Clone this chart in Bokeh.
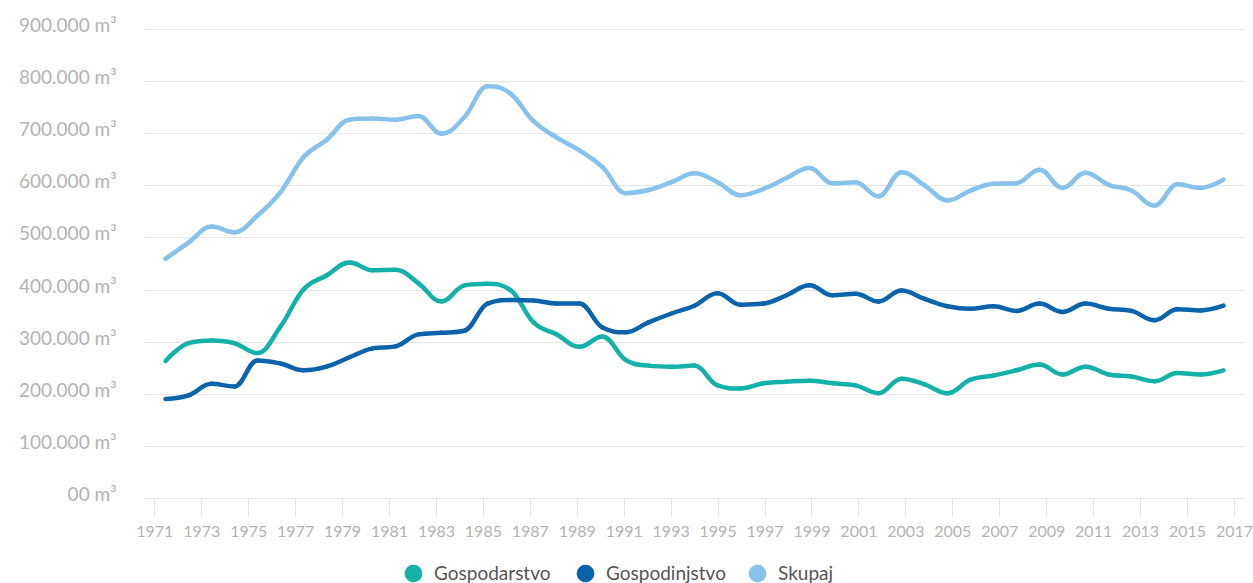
import numpy as np
from bokeh.plotting import figure
from bokeh.layouts import column
from bokeh.models import (Range1d, LinearAxis, FixedTicker, Legend, LegendItem, Grid)
from bokeh.embed import file_html
from bokeh.resources import INLINE

# ---------------- data ----------------
years = list(range(1971, 2018))

gospodarstvo = [264, 298, 303, 298, 279, 330, 401, 428, 453, 438,
                439, 413, 378, 409, 412, 400, 338, 315, 291, 311,
                266, 255, 253, 255, 217, 211, 221, 224, 226, 221,
                217, 202, 230, 219, 202, 228, 236, 246, 257, 238,
                253, 238, 234, 225, 241, 238, 246]

gospodinjstvo = [191, 198, 220, 215, 265, 259, 246, 253, 271, 288,
                 292, 315, 318, 322, 374, 381, 380, 374, 374, 328,
                 319, 338, 355, 370, 394, 372, 374, 390, 409, 390,
                 393, 378, 399, 383, 369, 364, 369, 360, 374, 358,
                 374, 364, 360, 342, 363, 361, 370]

skupaj = [460, 491, 522, 511, 543, 588, 655, 688, 727, 729,
          727, 734, 700, 732, 791, 777, 724, 693, 668, 636,
          586, 592, 607, 624, 607, 582, 594, 615, 634, 605,
          607, 580, 626, 601, 572, 591, 604, 605, 631, 596,
          625, 602, 591, 562, 603, 596, 612]

series_names = ["Gospodarstvo", "Gospodinjstvo", "Skupaj"]
series_colors = ["#14b1a8", "#0a63ab", "#86c2ec"]

x_tick_labels = list(range(1971, 2018, 2))
y_ticks = [0, 100000, 200000, 300000, 400000, 500000, 600000, 700000, 800000, 900000]
y_tick_labels = ["00 m³", "100.000 m³", "200.000 m³", "300.000 m³", "400.000 m³",
                 "500.000 m³", "600.000 m³", "700.000 m³", "800.000 m³", "900.000 m³"]

FONT = "Lato"
LABEL_GREY = "#b3b3b3"
GRID_GREY = "#e4e4e4"


def spline_segments(xs, ys, smoothing=1.5):
    """Control points of a smooth curve through the given points (one cubic per gap)."""
    xs = np.asarray(xs, float)
    ys = np.asarray(ys, float)
    n = len(xs)
    lcx, lcy, rcx, rcy = xs.copy(), ys.copy(), xs.copy(), ys.copy()
    d = smoothing + 1
    for i in range(1, n - 1):
        x, y = xs[i], ys[i]
        px, py, nx, ny = xs[i - 1], ys[i - 1], xs[i + 1], ys[i + 1]
        lx, ly = (smoothing * x + px) / d, (smoothing * y + py) / d
        rx, ry = (smoothing * x + nx) / d, (smoothing * y + ny) / d
        if rx != lx:
            corr = ((ry - ly) * (rx - x)) / (rx - lx) + y - ry
            ly += corr
            ry += corr
        if ly > py and ly > y:
            ly = max(py, y)
            ry = 2 * y - ly
        elif ly < py and ly < y:
            ly = min(py, y)
            ry = 2 * y - ly
        if ry > ny and ry > y:
            ry = max(ny, y)
            ly = 2 * y - ry
        elif ry < ny and ry < y:
            ry = min(ny, y)
            ly = 2 * y - ry
        lcx[i], lcy[i], rcx[i], rcy[i] = lx, ly, rx, ry
    return dict(x0=xs[:-1], y0=ys[:-1], x1=xs[1:], y1=ys[1:],
                cx0=rcx[:-1], cy0=rcy[:-1], cx1=lcx[1:], cy1=lcy[1:])


# ---------------- main figure ----------------
# frame: 484 px tall, 900.000 m³ sits 469 px above the 0 line
p = figure(width=1253, height=549, output_backend="svg", toolbar_location=None,
           x_range=Range1d(1970.087, 2017.957), y_range=Range1d(0, 928785),
           x_axis_location=None, y_axis_location=None,
           min_border_left=144, min_border_right=8, min_border_top=14,
           min_border_bottom=51)
p.outline_line_color = None
p.background_fill_color = "white"
p.border_fill_color = "white"

# x axis (its own tick range)
p.extra_x_ranges = {"ticks": Range1d(1970.561, 2017.47)}
xaxis = LinearAxis(x_range_name="ticks", ticker=FixedTicker(ticks=x_tick_labels))
xaxis.axis_line_color = GRID_GREY
xaxis.major_tick_line_color = GRID_GREY
xaxis.major_tick_out = 18
xaxis.major_tick_in = 0
xaxis.minor_tick_line_color = None
xaxis.major_label_standoff = 9
xaxis.major_label_text_font = FONT
xaxis.major_label_text_font_size = "16px"
xaxis.major_label_text_color = LABEL_GREY
p.add_layout(xaxis, "below")

# y axis: labels sit about 5 px above their grid lines
p.extra_y_ranges = {"labels": Range1d(-9595, 919190)}
yaxis = LinearAxis(y_range_name="labels", ticker=FixedTicker(ticks=y_ticks))
yaxis.major_label_overrides = {t: lab for t, lab in zip(y_ticks, y_tick_labels)}
yaxis.axis_line_color = None
yaxis.major_tick_line_color = None
yaxis.minor_tick_line_color = None
yaxis.major_tick_out = 0
yaxis.major_tick_in = 0
yaxis.major_label_standoff = 28
yaxis.major_label_text_font = FONT
yaxis.major_label_text_font_size = "19px"
yaxis.major_label_text_color = LABEL_GREY
p.add_layout(yaxis, "left")

p.xgrid.visible = False
p.ygrid.visible = False
p.add_layout(Grid(dimension=1, ticker=FixedTicker(ticks=y_ticks),
                  grid_line_color=GRID_GREY, grid_line_width=1))

for vals, col in zip([gospodarstvo, gospodinjstvo, skupaj], series_colors):
    seg = spline_segments(years, [v * 1000 for v in vals])
    p.bezier(source=seg, x0="x0", y0="y0", x1="x1", y1="y1",
             cx0="cx0", cy0="cy0", cx1="cx1", cy1="cy1",
             line_color=col, line_width=4.5, line_cap="round")

# ---------------- legend strip ----------------
lg = figure(width=1253, height=34, output_backend="svg", toolbar_location=None,
            x_range=Range1d(0, 1), y_range=Range1d(0, 1),
            x_axis_location=None, y_axis_location=None, min_border=0)
lg.outline_line_color = None
lg.xgrid.visible = False
lg.ygrid.visible = False
lg.background_fill_color = "white"
lg.border_fill_color = "white"

items = []
for name, vals, col in zip(series_names, [gospodarstvo, gospodinjstvo, skupaj], series_colors):
    dot = lg.scatter(x=years, y=vals, marker="circle", size=0,
                     fill_color=col, line_color=col)
    items.append(LegendItem(label=name, renderers=[dot]))

legend = Legend(items=items, orientation="horizontal", location=(248, -10.7),
                glyph_width=42, glyph_height=42, label_standoff=0, spacing=0,
                label_width=130,
                padding=0, margin=0, border_line_color=None, background_fill_alpha=0,
                label_text_font=FONT, label_text_font_size="19px",
                label_text_color="#555555")
lg.add_layout(legend)

layout = column(p, lg, spacing=0)
open("out.html", "w").write(file_html(layout, INLINE))
